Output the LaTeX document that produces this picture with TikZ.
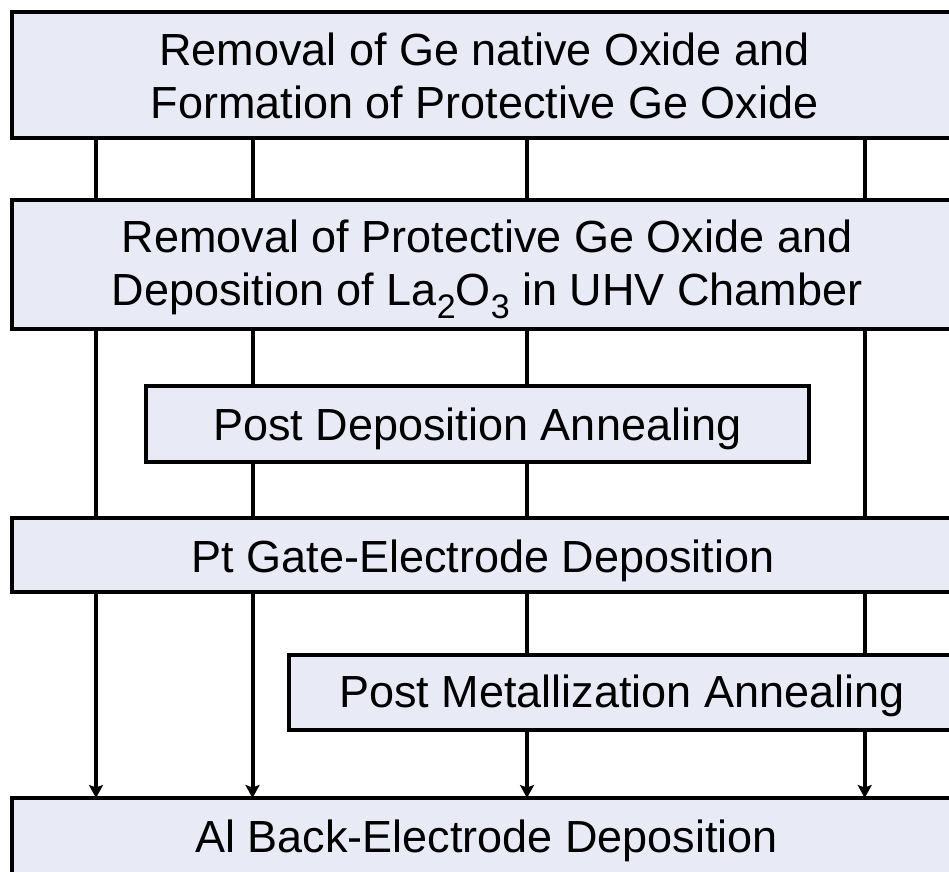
\documentclass[tikz,border=0pt]{standalone}
\usepackage{fontspec}
\setmainfont{Liberation Sans}
\usetikzlibrary{arrows.meta}
\definecolor{boxfill}{RGB}{232,234,245}
\newcommand{\subs}[1]{\raisebox{-13pt}{\fontsize{34}{34}\selectfont #1}}
\tikzset{
  stepbox/.style={draw=black, fill=boxfill, line width=4pt, inner sep=0pt, outer sep=0pt, rectangle},
  steptext/.style={anchor=base, inner sep=0pt, outer sep=0pt, font=\fontsize{45}{53}\selectfont},
  link/.style={line width=4pt, draw=black},
  arr/.style={line width=4pt, draw=black, -{Stealth[length=13pt,width=14pt,inset=2.5pt]}}
}
\begin{document}
\begin{tikzpicture}[x=1pt,y=-1pt]
\useasboundingbox (0,0) rectangle (949,871);
\clip (0,0) rectangle (949,871);
% columns
\coordinate (c1) at (96,0);
\coordinate (c2) at (252.5,0);
\coordinate (c3) at (527,0);
\coordinate (c4) at (864.7,0);
% boxes
\path
  (485.75,74.5)   node[stepbox, minimum width=948.5pt, minimum height=126pt]  (b1) {}
  (485.75,264.25) node[stepbox, minimum width=948.5pt, minimum height=129.5pt] (b2) {}
  (477.35,423.6)  node[stepbox, minimum width=662.7pt, minimum height=75.8pt]  (b3) {}
  (485.75,555.15) node[stepbox, minimum width=948.5pt, minimum height=74.3pt]  (b4) {}
  (626.85,692.5)  node[stepbox, minimum width=676.3pt, minimum height=75.6pt]  (b5) {}
  (485.75,836.5)  node[stepbox, minimum width=948.5pt, minimum height=77pt]    (b6) {};
% connectors
\foreach \c in {c1,c2,c3,c4} {\draw[link] (b1.south -| \c) -- (b2.north -| \c);}
\foreach \c in {c1,c4} {\draw[link] (b2.south -| \c) -- (b4.north -| \c);}
\foreach \c in {c2,c3} {\draw[link] (b2.south -| \c) -- (b3.north -| \c);
                       \draw[link] (b3.south -| \c) -- (b4.north -| \c);}
\foreach \c in {c1,c2} {\draw[arr] (b4.south -| \c) -- (b6.north -| \c);}
\foreach \c in {c3,c4} {\draw[link] (b4.south -| \c) -- (b5.north -| \c);
                       \draw[arr] (b5.south -| \c) -- (b6.north -| \c);}
% texts
\node[steptext] (t1a) at (484.5,65) {Removal of Ge native Oxide and};
\node[steptext] (t1b) at (484.5,118) {Formation of Protective Ge Oxide};
\node[steptext] (t2a) at (487,252) {Removal of Protective Ge Oxide and};
\node[steptext] (t2b) at (487,305) {Deposition of La\subs{2}O\subs{3} in UHV Chamber};
\node[steptext] (t3) at (477.3,440) {Post Deposition Annealing};
\node[steptext] (t4) at (483,572) {Pt Gate-Electrode Deposition};
\node[steptext] (t5) at (622,707) {Post Metallization Annealing};
\node[steptext] (t6) at (486.5,852) {Al Back-Electrode Deposition};
\end{tikzpicture}
\end{document}
